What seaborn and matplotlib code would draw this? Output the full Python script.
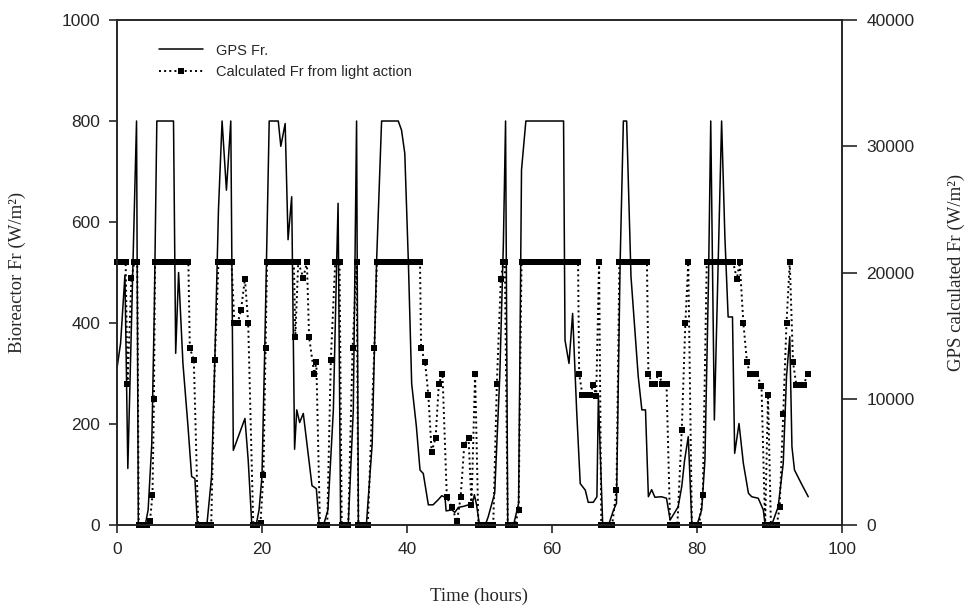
import matplotlib
matplotlib.use("Agg")
import matplotlib.pyplot as plt
import pandas as pd
import seaborn as sns

# ===============================
# DATA
# ===============================

# GPS Fr. on the left axis (W/m2)
gps_time = [0.0, 0.5, 1.1, 1.5, 2.7, 2.95, 3.9, 4.3, 4.8, 5.15, 5.5, 7.8, 8.1, 8.5,
            9.1, 9.8, 10.3, 10.75, 11.1, 12.4, 13.05, 13.5, 14.0, 14.5, 15.1, 15.7,
            16.05, 17.65, 18.1, 18.6, 19.2, 19.6, 20.0, 20.4, 21.0, 22.25, 22.6, 23.2,
            23.6, 24.1, 24.5, 24.8, 25.2, 25.7, 26.9, 27.5, 27.9, 28.5, 29.1, 29.85,
            30.3, 30.5, 30.85, 31.9, 32.6, 33.05, 33.3, 34.4, 35.2, 35.8, 36.5, 38.8,
            39.25, 39.7, 40.2, 40.65, 41.3, 41.8, 42.25, 42.95, 43.6, 44.3, 44.8, 45.25,
            45.4, 46.2, 46.6, 47.1, 47.8, 48.5, 48.9, 49.3, 49.6, 50.0, 50.8, 51.2,
            52.1, 52.8, 53.3, 53.6, 53.9, 54.7, 55.4, 55.8, 56.4, 61.6, 61.8, 62.35,
            62.85, 63.4, 63.9, 64.6, 65.0, 65.7, 66.2, 66.4, 67.0, 67.8, 68.5, 68.9,
            69.4, 69.85, 70.3, 70.9, 71.9, 72.4, 72.9, 73.3, 73.75, 74.2, 75.1, 75.8,
            76.3, 77.4, 77.9, 78.3, 78.8, 79.3, 80.0, 80.65, 81.1, 81.6, 81.9, 82.4,
            83.4, 83.85, 84.3, 84.9, 85.2, 85.8, 86.4, 87.1, 87.55, 88.45, 89.15, 89.4,
            90.3, 91.2, 91.9, 92.35, 92.8, 93.1, 93.45, 94.4, 95.35]
gps_fr = [310, 360, 495, 112, 800, 0, 0, 30, 160, 425, 800, 800, 340, 500,
          320, 195, 96, 92, 0, 0, 96, 327, 624, 800, 663, 800,
          148, 211, 129, 0, 0, 30, 96, 360, 800, 800, 750, 795,
          565, 650, 150, 228, 203, 221, 78, 72, 0, 0, 30, 228,
          518, 637, 0, 0, 228, 800, 0, 0, 160, 518, 800, 800,
          782, 736, 518, 280, 195, 109, 102, 40, 40, 50, 58, 55,
          28, 30, 25, 35, 37, 40, 35, 60, 40, 0, 0, 16,
          63, 294, 558, 800, 0, 0, 43, 703, 800, 800, 366, 320,
          419, 228, 82, 69, 45, 45, 56, 254, 0, 0, 30, 43,
          518, 800, 800, 492, 294, 228, 228, 56, 70, 55, 56, 53,
          10, 36, 76, 129, 175, 0, 0, 30, 129, 492, 800, 208,
          800, 571, 412, 412, 142, 201, 122, 63, 56, 53, 30, 0,
          0, 36, 122, 294, 373, 155, 109, 82, 56]

# Calculated Fr from light action on the right axis (W/m2)
calc_time = [0.0, 0.4, 0.8, 1.2, 1.45, 2.0, 2.4, 2.8, 3.0, 3.4, 3.8, 4.2, 4.55, 4.9,
             5.1, 5.25, 5.75, 6.25, 6.75, 7.25, 7.75, 8.25, 8.75, 9.25, 9.85, 10.05,
             10.6, 11.2, 11.7, 12.2, 12.7, 13.0, 13.5, 14.0, 14.5, 15.0, 15.5, 15.8,
             16.2, 16.65, 17.1, 17.65, 18.1, 18.8, 19.3, 19.8, 20.2, 20.5, 20.7, 21.2,
             21.7, 22.2, 22.7, 23.2, 23.7, 24.2, 24.4, 24.6, 25.0, 25.7, 26.2, 26.5,
             27.2, 27.5, 28.0, 28.5, 29.0, 29.5, 30.1, 30.7, 31.0, 31.4, 31.9, 32.5,
             33.05, 33.3, 33.8, 34.3, 34.6, 35.5, 35.85, 36.3, 36.8, 37.3, 37.8, 38.3,
             38.8, 39.3, 39.8, 40.3, 40.8, 41.3, 41.8, 41.95, 42.5, 42.95, 43.4, 43.95,
             44.4, 44.9, 45.5, 46.2, 46.9, 47.4, 47.9, 48.5, 48.9, 49.4, 49.85, 50.3,
             50.8, 51.3, 51.9, 52.4, 52.95, 53.3, 53.5, 53.9, 54.4, 54.9, 55.4, 55.8,
             56.3, 56.8, 57.3, 57.8, 58.3, 58.8, 59.3, 59.8, 60.3, 60.8, 61.3, 61.8,
             62.3, 62.8, 63.3, 63.6, 63.75, 64.2, 64.7, 65.2, 65.7, 66.1, 66.5, 66.8,
             67.3, 67.8, 68.3, 68.9, 69.3, 69.8, 70.3, 70.8, 71.3, 71.8, 72.3, 72.8,
             73.1, 73.3, 73.8, 74.2, 74.7, 75.2, 75.8, 76.3, 76.8, 77.3, 77.9, 78.4,
             78.8, 79.3, 79.8, 80.3, 80.8, 81.35, 81.8, 82.3, 82.8, 83.3, 83.8, 84.3,
             84.7, 85.0, 85.5, 85.9, 86.4, 86.9, 87.3, 87.8, 88.2, 88.9, 89.4, 89.8,
             90.2, 90.6, 91.0, 91.4, 91.9, 92.35, 92.8, 93.25, 93.7, 94.2, 94.7, 95.3]
calc_fr = [20800, 20800, 20800, 20800, 11200, 19600, 20800, 20800, 0, 0, 0, 0, 280, 2400,
           10000, 20800, 20800, 20800, 20800, 20800, 20800, 20800, 20800, 20800, 20800, 14000,
           13100, 0, 0, 0, 0, 0, 13100, 20800, 20800, 20800, 20800, 20800,
           16000, 16000, 17000, 19500, 16000, 0, 0, 200, 4000, 14000, 20800, 20800,
           20800, 20800, 20800, 20800, 20800, 20800, 20800, 14900, 20800, 19600, 20800, 14900,
           12000, 12900, 0, 0, 0, 13100, 20800, 20800, 0, 0, 0, 14000,
           20800, 0, 0, 0, 0, 14000, 20800, 20800, 20800, 20800, 20800, 20800,
           20800, 20800, 20800, 20800, 20800, 20800, 20800, 14000, 12900, 10300, 5800, 6900,
           11200, 12000, 2200, 1400, 280, 2200, 6300, 6900, 1600, 12000, 0, 0,
           0, 0, 0, 11200, 19500, 20800, 20800, 0, 0, 0, 1200, 20800,
           20800, 20800, 20800, 20800, 20800, 20800, 20800, 20800, 20800, 20800, 20800, 20800,
           20800, 20800, 20800, 20800, 12000, 10300, 10300, 10300, 11100, 10200, 20800, 0,
           0, 0, 0, 2800, 20800, 20800, 20800, 20800, 20800, 20800, 20800, 20800,
           20800, 12000, 11200, 11200, 12000, 11200, 11200, 0, 0, 0, 7500, 16000,
           20800, 0, 0, 0, 2400, 20800, 20800, 20800, 20800, 20800, 20800, 20800,
           20800, 20800, 19500, 20800, 16000, 12900, 12000, 12000, 12000, 11000, 0, 10300,
           0, 0, 0, 1400, 8800, 16000, 20800, 12900, 11100, 11100, 11100, 12000]

x_ticks = [0, 20, 40, 60, 80, 100]
left_ticks = [0, 200, 400, 600, 800, 1000]
right_ticks = [0, 10000, 20000, 30000, 40000]

gps = pd.DataFrame({"time": gps_time, "fr": gps_fr})
calc = pd.DataFrame({"time": calc_time, "fr": calc_fr})

# ===============================
# STYLE
# ===============================

sns.set_style("ticks")
plt.rcParams["font.family"] = ["Liberation Sans", "DejaVu Sans"]
plt.rcParams["axes.linewidth"] = 1.2
plt.rcParams["xtick.major.width"] = 1.2
plt.rcParams["ytick.major.width"] = 1.2
plt.rcParams["xtick.major.size"] = 6
plt.rcParams["ytick.major.size"] = 6

serif = ["Liberation Serif", "DejaVu Serif"]

fig = plt.figure(figsize=(9.69, 6.10), dpi=100)
ax = fig.add_axes([0.1207, 0.1393, 0.7482, 0.8279])
ax2 = ax.twinx()

# ===============================
# PLOT
# ===============================

sns.lineplot(data=gps, x="time", y="fr", ax=ax, color="black", linewidth=1.1,
             estimator=None, sort=False, clip_on=False, label="GPS Fr.", legend=False)
sns.lineplot(data=calc, x="time", y="fr", ax=ax2, color="black", linewidth=1.4,
             linestyle=":", marker="s", markersize=4.2, markeredgewidth=0,
             estimator=None, sort=False, clip_on=False,
             label="Calculated Fr from light action", legend=False)

ax.set_xlim(0, 100)
ax.set_ylim(0, 1000)
ax2.set_ylim(0, 40000)
ax.set_xticks(x_ticks)
ax.set_yticks(left_ticks)
ax2.set_yticks(right_ticks)
ax.tick_params(labelsize=12.5, pad=6)
ax2.tick_params(labelsize=12.5, pad=7, length=10.5)
for s in ["top", "right"]:
    ax.spines[s].set_visible(True)
    ax2.spines[s].set_visible(True)

ax.set_xlabel("Time (hours)", family=serif, fontsize=13.5)
ax.set_ylabel("Bioreactor Fr (W/m²)", family=serif, fontsize=13.5)
ax2.set_ylabel("GPS calculated Fr (W/m²)", family=serif, fontsize=13.5)
ax.xaxis.set_label_coords(0.5, -0.125)
ax.yaxis.set_label_coords(-0.125, 0.5)
ax2.yaxis.set_label_coords(1.146, 0.5)

h1 = ax.get_lines()[0]
h2 = ax2.get_lines()[0]
ax2.legend([h1, h2], ["GPS Fr.", "Calculated Fr from light action"],
           loc="upper left", bbox_to_anchor=(0.05, 0.965), frameon=False,
           fontsize=10.5, handlelength=3.0, handletextpad=0.9, labelspacing=0.5,
           numpoints=1, borderaxespad=0)

fig.savefig("out.png", dpi=100)
